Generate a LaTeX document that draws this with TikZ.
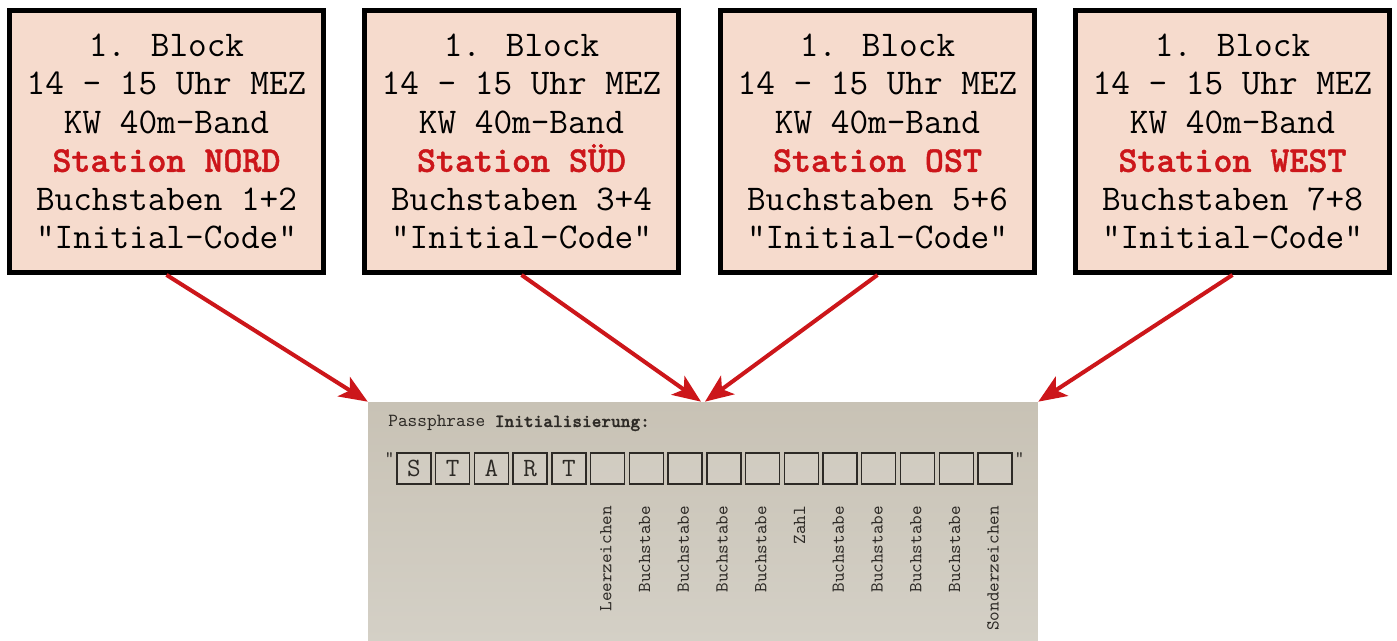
\documentclass[tikz,border=0pt]{standalone}
\usepackage{fontspec}
\usepackage{tikz}
\usepackage{xcolor}
\usetikzlibrary{arrows.meta, positioning}

\newfontfamily\heavymono{lmmonolt10-bold}[Extension=.otf, FakeBold=1.2]

\definecolor{boxpink}{RGB}{246,219,205}
\definecolor{alarmred}{RGB}{204,22,26}
\definecolor{paperlight}{RGB}{212,208,198}
\definecolor{paperdark}{RGB}{200,194,181}
\definecolor{inkgrey}{RGB}{45,42,38}

\tikzset{
  infobox/.style={draw=black, line width=2.8pt, fill=boxpink, inner sep=0pt,
    minimum width=6.28cm, minimum height=5.24cm, align=center,
    font=\ttfamily\fontsize{20.6}{21.9}\selectfont},
  redarrow/.style={draw=alarmred, line width=2.3pt,
    -{Stealth[length=16pt, width=13pt, inset=4pt]}},
  letterbox/.style={draw=inkgrey, line width=0.8pt, fill=white, fill opacity=0.12,
    text opacity=1, minimum width=0.68cm, minimum height=0.62cm, inner sep=0pt,
    font=\ttfamily\fontsize{15}{15}\selectfont},
  charlabel/.style={rotate=90, anchor=east, inner sep=0pt, text height=1.3ex,
    text depth=0.3ex, text=inkgrey, font=\ttfamily\fontsize{10.4}{10.4}\selectfont},
}

\newcommand{\station}[1]{\textcolor{alarmred}{\heavymono\fontsize{20.6}{21.9}\selectfont Station #1}}

\begin{document}
\begin{tikzpicture}[x=0.02cm, y=-0.02cm]
    \useasboundingbox (0,0) rectangle (1397,641);

    \coordinate (P1) at (166.5, 141.5);
    \coordinate (P2) at (521.5, 141.5);
    \coordinate (P3) at (877.5, 141.5);
    \coordinate (P4) at (1232.5, 141.5);

    % die vier Stationen
    \node[infobox] (nord) at (P1) {1. Block\\14 - 15 Uhr MEZ\\KW 40m-Band\\\station{NORD}\\Buchstaben 1+2\\"Initial-Code"};
    \node[infobox] (sued) at (P2) {1. Block\\14 - 15 Uhr MEZ\\KW 40m-Band\\\station{SÜD}\\Buchstaben 3+4\\"Initial-Code"};
    \node[infobox] (ost) at (P3) {1. Block\\14 - 15 Uhr MEZ\\KW 40m-Band\\\station{OST}\\Buchstaben 5+6\\"Initial-Code"};
    \node[infobox] (west) at (P4) {1. Block\\14 - 15 Uhr MEZ\\KW 40m-Band\\\station{WEST}\\Buchstaben 7+8\\"Initial-Code"};

    % Passphrase-Blatt
    \node[inner sep=0pt, minimum width=13.4cm, minimum height=4.78cm,
      top color=paperdark, bottom color=paperlight] (pass) at (703, 521.5) {};

    \node[anchor=base west, inner sep=0pt, text=inkgrey, font=\ttfamily\fontsize{10.5}{10.5}\selectfont]
      (title) at (388, 427) {Passphrase {\heavymono\fontsize{10.5}{10.5}\selectfont Initialisierung:}};

    \foreach \i in {0,...,15}
      \node[letterbox] (c\i) at ({414+\i*38.73}, 468.5) {};

    \foreach \i/\ch in {0/S, 1/T, 2/A, 3/R, 4/T}
      \node[font=\ttfamily\fontsize{15}{15}\selectfont, text=inkgrey] at (c\i) {\ch};

    \node[left=1pt of c0.north west, anchor=north east, inner sep=0pt, text=inkgrey,
      font=\ttfamily\fontsize{10}{10}\selectfont] (qopen) {"};
    \node[right=1pt of c15.north east, anchor=north west, inner sep=0pt, text=inkgrey,
      font=\ttfamily\fontsize{10}{10}\selectfont] (qclose) {"};

    \foreach \i/\lab in {5/Leerzeichen, 6/Buchstabe, 7/Buchstabe, 8/Buchstabe,
                        9/Buchstabe, 10/Zahl, 11/Buchstabe, 12/Buchstabe,
                        13/Buchstabe, 14/Buchstabe, 15/Sonderzeichen}
      \node[charlabel] (l\i) at ([yshift=-0.42cm]c\i.south) {\lab};

    % Pfeile
    \draw[redarrow] (nord.south) -- (pass.north west);
    \draw[redarrow] (sued.south) -- ([xshift=-0.04cm]pass.north);
    \draw[redarrow] (ost.south) -- ([xshift=0.04cm]pass.north);
    \draw[redarrow] (west.south) -- (pass.north east);
  \end{tikzpicture}
\end{document}
